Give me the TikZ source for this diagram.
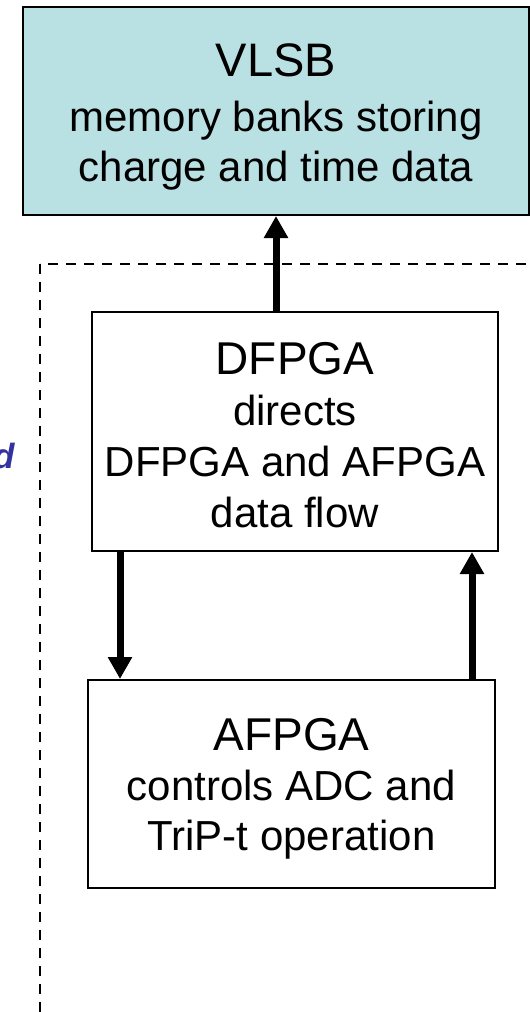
\documentclass[tikz,border=0pt]{standalone}
\usepackage{fontspec}
\setmainfont{Liberation Sans}
\usepackage{xcolor}
\usetikzlibrary{arrows.meta}
\usetikzlibrary{positioning}

\definecolor{vlsbcyan}{HTML}{B9E0E3}
\definecolor{noteblue}{HTML}{3333A0}

\tikzset{
	unit/.style={draw=black, line width=2pt, align=center, inner sep=0pt,
		font=\fontsize{42}{50}\selectfont},
	flow/.style={line width=7pt, -{Triangle[length=22pt,width=23pt]}},
	board/.style={draw=black, line width=2.3pt, dash pattern=on 10pt off 8pt},
}

\begin{document}
\begin{tikzpicture}[x=1pt,y=-1pt]
		\useasboundingbox (0,0) rectangle (530,1012);
		\clip (0,0) rectangle (530,1012);
		% dashed board outline
		\draw [board] (40,264) rectangle (560,1040);
		\node [anchor=base east, text=noteblue, font=\fontsize{35}{40}\selectfont\bfseries\itshape] (note) at (18,468) {d};
		% boxes
		\node [unit, fill=vlsbcyan, minimum width=506pt, minimum height=208pt] (vlsb) at (276,111) {};
		\node [align=center, inner sep=0pt, font=\fontsize{42}{50}\selectfont] (vlsbtxt) at (276,117) {{\fontsize{47}{50}\selectfont VLSB}\\[5pt] memory banks storing\\ charge and time data};
		\node [unit, fill=white, minimum width=406pt, minimum height=239pt] (dfpga) at (295,431.5) {};
		\node [align=center, inner sep=0pt, font=\fontsize{42}{51}\selectfont] (dfpgatxt) at (295,435) {{\fontsize{46}{50}\selectfont DFPGA}\\ directs\\ DFPGA and AFPGA\\ data flow};
		\node [unit, fill=white, minimum width=407pt, minimum height=208pt] (afpga) at (291.5,784) {};
		\node [align=center, inner sep=0pt, font=\fontsize{42}{50}\selectfont] (afpgatxt) at (291.5,789) {{\fontsize{46}{50}\selectfont AFPGA}\\ controls ADC and\\ TriP-t operation};
		% links
		\draw [flow] (vlsb.south |- dfpga.north) -- (vlsb.south);
		\draw [flow] ([xshift=-175pt]dfpga.south) -- ([xshift=-175pt]dfpga.south |- afpga.north);
		\draw [flow] ([xshift=177pt]dfpga.south |- afpga.north) -- ([xshift=177pt]dfpga.south);
	\end{tikzpicture}
\end{document}
